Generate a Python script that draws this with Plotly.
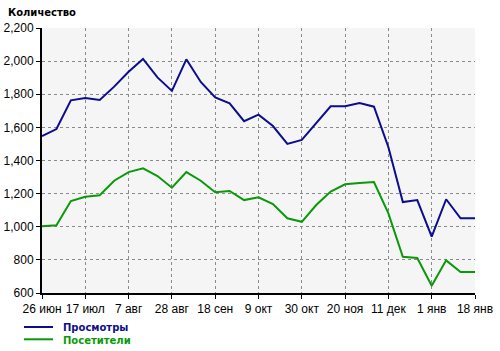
import plotly.graph_objects as go

week_index = list(range(31))
views = [1548, 1590, 1763, 1777, 1765, 1846, 1936, 2013, 1902, 1820, 2011, 1874,
         1781, 1745, 1637, 1677, 1608, 1500, 1524, 1624, 1727, 1727, 1747, 1725,
         1480, 1149, 1161, 940, 1166, 1051, 1051]
visitors = [1003, 1009, 1155, 1181, 1190, 1278, 1330, 1353, 1306, 1236, 1330, 1278,
            1208, 1216, 1161, 1178, 1137, 1051, 1030, 1131, 1212, 1256, 1264, 1270,
            1081, 819, 811, 644, 797, 727, 727]
tick_positions = [0, 3, 6, 9, 12, 15, 18, 21, 24, 27, 30]
tick_labels = ["26 июн", "17 июл", "7 авг", "28 авг", "18 сен", "9 окт",
               "30 окт", "20 ноя", "11 дек", "1 янв", "18 янв"]
y_ticks = [600, 800, 1000, 1200, 1400, 1600, 1800, 2000, 2200]
series_names = ["Просмотры", "Посетители"]

BLUE = "#0d0d8f"
GREEN = "#0a990a"
COLORS = [BLUE, GREEN]
FONT = "Liberation Sans, Arial, sans-serif"
BOLD_FONT = "DejaVu Sans, Verdana, sans-serif"

W, H = 500, 351
ML, MR, MT, MB = 42, 25, 28, 58
PW, PH = W - ML - MR, H - MT - MB


def px_to_paper_x(px):
    return (px - ML) / PW


def px_to_paper_y(py):
    return (H - MB - py) / PH


fig = go.Figure()
for vals, name, col in zip([views, visitors], series_names, COLORS):
    fig.add_trace(go.Scatter(
        x=week_index, y=vals, mode="lines",
        line=dict(color=col, width=2), name=name, showlegend=False,
    ))

shapes = []
legend_rows = [33, 339.3]
legend_rows = [327, 339.3]
for ypix, col in zip(legend_rows, COLORS):
    shapes.append(dict(
        type="line", xref="paper", yref="paper",
        x0=px_to_paper_x(24), x1=px_to_paper_x(53),
        y0=px_to_paper_y(ypix), y1=px_to_paper_y(ypix),
        line=dict(color=col, width=2),
    ))
legend_text = "<br>".join(
    "<span style='color:%s'><b>%s</b></span>" % (col, name)
    for name, col in zip(series_names, COLORS)
)
annotations = [
    dict(
        text="<b>Количество</b>", xref="paper", yref="paper",
        x=px_to_paper_x(6), y=px_to_paper_y(12), xanchor="left", yanchor="middle",
        showarrow=False, font=dict(family=BOLD_FONT, size=10, color="black"),
    ),
    dict(
        text=legend_text, xref="paper", yref="paper", align="left",
        x=px_to_paper_x(62), y=px_to_paper_y(333.5), xanchor="left", yanchor="middle",
        showarrow=False, borderpad=0,
        font=dict(family=BOLD_FONT, size=10, color=BLUE),
    ),
]

fig.update_layout(
    width=W, height=H,
    margin=dict(l=ML, r=MR, t=MT, b=MB, autoexpand=False),
    paper_bgcolor="white",
    plot_bgcolor="#f5f5f5",
    font=dict(family=FONT, size=12, color="black"),
    showlegend=False,
    shapes=shapes,
    annotations=annotations,
)
fig.update_xaxes(
    range=[0, 30], tickmode="array", tickvals=tick_positions, ticktext=tick_labels,
    showgrid=True, gridcolor="#8a8a8a", griddash="dot", gridwidth=1,
    showline=True, linecolor="black", linewidth=2,
    ticks="outside", ticklen=4, tickcolor="black",
    zeroline=False, tickfont=dict(size=12),
)
fig.update_yaxes(
    range=[600, 2200], tickmode="array", tickvals=y_ticks, tickformat=",",
    showgrid=True, gridcolor="#8a8a8a", griddash="dot", gridwidth=1,
    showline=True, linecolor="black", linewidth=2,
    ticks="outside", ticklen=4, tickcolor="black",
    zeroline=False, tickfont=dict(size=12),
)

fig.write_html("out.html")
